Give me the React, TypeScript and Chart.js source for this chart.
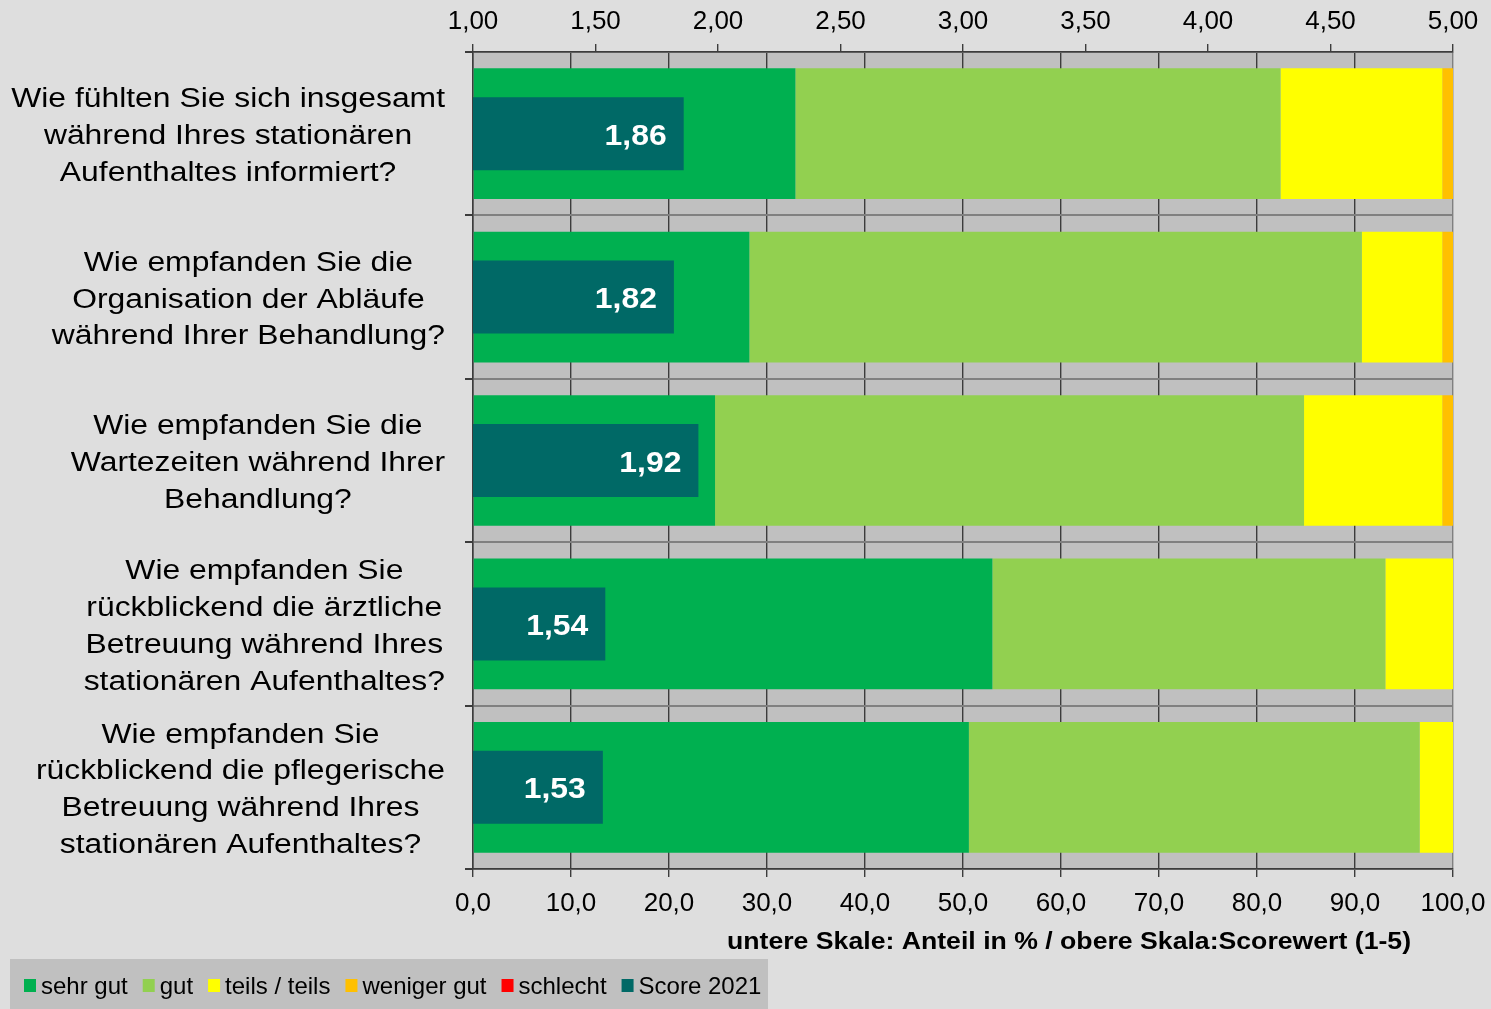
import React, { useEffect, useRef } from 'react';
import { Chart, registerables } from 'chart.js';

Chart.register(...registerables);

const FONT = '"Liberation Sans", Arial, Helvetica, sans-serif';

const categories: string[][] = [
  ['Wie fühlten Sie sich insgesamt', 'während Ihres stationären', 'Aufenthaltes informiert?'],
  ['Wie empfanden Sie die', 'Organisation der Abläufe', 'während Ihrer Behandlung?'],
  ['Wie empfanden Sie die', 'Wartezeiten während Ihrer', 'Behandlung?'],
  ['Wie empfanden Sie', 'rückblickend die ärztliche', 'Betreuung während Ihres', 'stationären Aufenthaltes?'],
  ['Wie empfanden Sie', 'rückblickend die pflegerische', 'Betreuung während Ihres', 'stationären Aufenthaltes?'],
];

const sehrGut = [32.9, 28.2, 24.7, 53.0, 50.6];
const gut = [49.5, 62.5, 60.1, 40.1, 46.0];
const teilsTeils = [16.5, 8.2, 14.1, 6.9, 3.4];
const wenigerGut = [1.1, 1.1, 1.1, 0, 0];
const schlecht = [0, 0, 0, 0, 0];
const score2021 = [1.86, 1.82, 1.92, 1.54, 1.53];

const seriesLabels = ['sehr gut', 'gut', 'teils / teils', 'weniger gut', 'schlecht', 'Score 2021'];
const seriesColors = ['#00B050', '#92D050', '#FFFF00', '#FFC000', '#FF0000', '#006966'];

const axisTitle = 'untere Skale: Anteil in % / obere Skala:Scorewert (1-5)';

const BG = '#dedede';
const PLOT_BG = '#c0c0c0';
const DARK = '#3c3c3c';

const fmt = (v: number, d: number) => v.toFixed(d).replace('.', ',');

const decorPlugin = {
  id: 'decor',
  beforeDraw(chart: any) {
    const { ctx, chartArea, width, height } = chart;
    ctx.save();
    ctx.fillStyle = BG;
    ctx.fillRect(0, 0, width, height);
    ctx.fillStyle = PLOT_BG;
    ctx.fillRect(chartArea.left, chartArea.top, chartArea.right - chartArea.left, chartArea.bottom - chartArea.top);
    ctx.restore();
  },
  afterDatasetsDraw(chart: any) {
    const { ctx } = chart;
    const idx = chart.data.datasets.length - 1;
    const meta = chart.getDatasetMeta(idx);
    ctx.save();
    ctx.fillStyle = '#ffffff';
    ctx.font = `bold 29px ${FONT}`;
    ctx.textAlign = 'right';
    ctx.textBaseline = 'middle';
    meta.data.forEach((el: any, i: number) => {
      ctx.save();
      ctx.translate(el.x - 17, el.y + 3);
      ctx.scale(1.1, 1);
      ctx.fillText(fmt(score2021[i], 2), 0, 0);
      ctx.restore();
    });
    ctx.restore();
  },
  afterDraw(chart: any) {
    const { ctx, chartArea } = chart;
    const yScale = chart.scales.y;
    // category labels
    ctx.save();
    ctx.fillStyle = '#000000';
    ctx.font = `27px ${FONT}`;
    ctx.textAlign = 'center';
    ctx.textBaseline = 'middle';
    const sx = 1.18;
    const pitch = 36.8;
    categories.forEach((lines, i) => {
      const maxW = Math.max(...lines.map((l) => ctx.measureText(l).width)) * sx;
      const cx = chartArea.left - 28 - maxW / 2;
      const cy = yScale.getPixelForTick(i);
      const start = cy - ((lines.length - 1) / 2) * pitch + 3;
      lines.forEach((line, j) => {
        ctx.save();
        ctx.translate(cx, start + j * pitch);
        ctx.scale(sx, 1);
        ctx.fillText(line, 0, 0);
        ctx.restore();
      });
    });
    ctx.restore();

    // axis title
    ctx.save();
    ctx.fillStyle = '#000000';
    ctx.font = `bold 24px ${FONT}`;
    ctx.textAlign = 'right';
    ctx.textBaseline = 'middle';
    ctx.translate(chartArea.right - 42, 942);
    ctx.scale(1.11, 1);
    ctx.fillText(axisTitle, 0, 0);
    ctx.restore();

    // legend
    ctx.save();
    ctx.fillStyle = PLOT_BG;
    ctx.fillRect(10, 959, 758, 50);
    ctx.font = `24px ${FONT}`;
    ctx.textAlign = 'left';
    ctx.textBaseline = 'middle';
    let x = 24;
    const cyL = 986;
    seriesLabels.forEach((lab, i) => {
      ctx.fillStyle = seriesColors[i];
      ctx.fillRect(x, cyL - 7, 12, 13);
      x += 12 + 5;
      ctx.fillStyle = '#000000';
      ctx.fillText(lab, x, cyL + 1);
      x += ctx.measureText(lab).width + 15;
    });
    ctx.restore();
  },
};

export default function App() {
  const ref = useRef<HTMLCanvasElement | null>(null);

  useEffect(() => {
    if (!ref.current) return;
    Chart.defaults.font.family = FONT;
    const pctData = [sehrGut, gut, teilsTeils, wenigerGut, schlecht];
    const datasets: any[] = pctData.map((d, i) => ({
      label: seriesLabels[i],
      data: d,
      backgroundColor: seriesColors[i],
      borderWidth: 0,
      xAxisID: 'x',
      yAxisID: 'y',
      grouped: false,
      categoryPercentage: 0.8,
      barPercentage: 1,
      order: 1,
    }));
    datasets.push({
      label: seriesLabels[5],
      data: score2021,
      backgroundColor: seriesColors[5],
      borderWidth: 0,
      xAxisID: 'x2',
      yAxisID: 'y',
      grouped: false,
      categoryPercentage: 0.447,
      barPercentage: 1,
      order: 0,
    });

    const fixH = (h: number) => (s: any) => {
      s.height = h;
      s.paddingLeft = 0;
      s.paddingRight = 0;
    };

    const chart = new Chart(ref.current, {
      type: 'bar',
      data: {
        labels: categories.map((c) => c.join(' ')),
        datasets,
      },
      plugins: [decorPlugin],
      options: {
        indexAxis: 'y',
        animation: false,
        responsive: false,
        maintainAspectRatio: false,
        layout: { padding: { left: 0, right: 38, top: 0, bottom: 0 } },
        plugins: {
          legend: { display: false },
          tooltip: { enabled: false },
          title: { display: false },
        },
        scales: {
          x: {
            type: 'linear',
            position: 'bottom',
            stacked: true,
            min: 0,
            max: 100,
            ticks: {
              stepSize: 10,
              color: '#000000',
              font: { size: 26, family: FONT },
              padding: 11,
              maxRotation: 0,
              callback: (v: any) => fmt(Number(v), 1),
            },
            grid: {
              color: (c: any) => (c.tick && c.tick.value === 100 ? '#808080' : DARK),
              lineWidth: 1.4,
              tickColor: DARK,
              tickLength: 8,
              drawOnChartArea: true,
            },
            border: { color: DARK, width: 1.5 },
            afterFit: fixH(140),
          },
          x2: {
            type: 'linear',
            position: 'top',
            min: 1,
            max: 5,
            ticks: {
              stepSize: 0.5,
              color: '#000000',
              font: { size: 26, family: FONT },
              padding: 7,
              maxRotation: 0,
              callback: (v: any) => fmt(Number(v), 2),
            },
            grid: {
              drawOnChartArea: false,
              color: DARK,
              tickColor: DARK,
              tickLength: 8,
              lineWidth: 1.4,
            },
            border: { color: DARK, width: 1.5 },
            afterFit: fixH(52),
          },
          y: {
            type: 'category',
            position: 'left',
            stacked: true,
            offset: true,
            ticks: { display: false },
            grid: {
              offset: true,
              color: '#808080',
              lineWidth: 2,
              tickColor: DARK,
              tickLength: 8,
            },
            border: { color: DARK, width: 1.5 },
            afterFit: (s: any) => {
              s.width = 473;
              s.paddingTop = 0;
              s.paddingBottom = 0;
            },
          },
        },
      } as any,
    });
    return () => chart.destroy();
  }, []);

  return (
    <div style={{ position: 'fixed', left: 0, top: 0, width: 1491, height: 1009, background: BG }}>
      <canvas ref={ref} width={1491} height={1009} style={{ display: 'block', width: 1491, height: 1009 }} />
    </div>
  );
}
